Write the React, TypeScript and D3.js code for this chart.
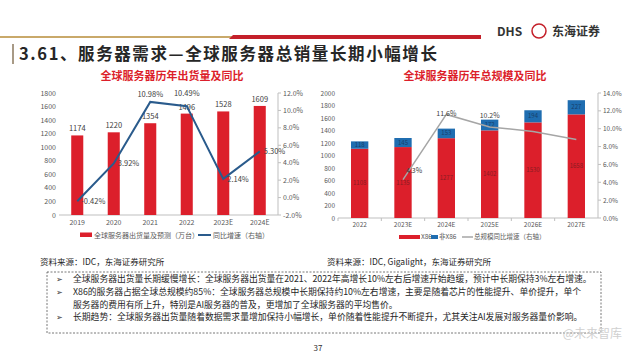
import React from 'react';
import * as d3 from 'd3';

const years1 = ['2019', '2020', '2021', '2022', '2023E', '2024E'];
const shipments = [1174, 1220, 1354, 1496, 1528, 1609];
const shipGrowth = [-0.42, 3.92, 10.98, 10.49, 2.14, 5.3];
const shipGrowthLabels = ['-0.42%', '3.92%', '10.98%', '10.49%', '2.14%', '5.30%'];
const leftTicks1 = [0, 200, 400, 600, 800, 1000, 1200, 1400, 1600, 1800];
const rightTicks1 = [-2, 0, 2, 4, 6, 8, 10, 12];

const years2 = ['2022', '2023E', '2024E', '2025E', '2026E', '2027E'];
const x86 = [1108, 1135, 1277, 1402, 1530, 1658];
const nonX86 = [118, 145, 153, 172, 194, 227];
const scaleGrowth = [NaN, 4.3, 11.6, 10.2, 9.7, 8.8];
const scaleGrowthLabels = ['', '4.3%', '11.6%', '10.2%', '', ''];
const leftTicks2 = [0, 200, 400, 600, 800, 1000, 1200, 1400, 1600, 1800, 2000];
const rightTicks2 = [0, 2, 4, 6, 8, 10, 12, 14];

const bullets = [
  '全球服务器出货量长期缓慢增长：全球服务器出货量在2021、2022年高增长10%左右后增速开始趋缓，预计中长期保持3%左右增速。',
  'X86的服务器占据全球总规模约85%：全球服务器总规模中长期保持约10%左右增速，主要是随着芯片的性能提升、单价提升，单个',
  '服务器的费用有所上升，特别是AI服务器的普及，更增加了全球服务器的平均售价。',
  '长期趋势：全球服务器出货量随着数据需求量增加保持小幅增长，单价随着性能提升不断提升，尤其关注AI发展对服务器量价影响。',
];
const bulletFlags = [true, true, false, true];

const FONT = '"Noto Sans CJK SC", "Noto Sans", sans-serif';
const RED = '#dc1f2b';
const BLUE = '#1f6db0';
const NAVY = '#2a5b8c';
const AXIS = '#bfbfbf';
const TICK = '#595959';

function LeftChart() {
  const x = d3.scaleBand<string>().domain(years1).range([59, 278]).paddingInner(0.67).paddingOuter(0.335);
  const yL = d3.scaleLinear().domain([0, 1800]).range([215, 93]);
  const yR = d3.scaleLinear().domain([-2, 12]).range([215, 93]);
  const cx = (d: string) => (x(d) as number) + x.bandwidth() / 2;
  const line = d3.line<number>().x((_, i) => cx(years1[i])).y((g) => yR(g));
  const labelPos = ['r', 'r', 't', 't', 'r', 'r'];
  return (
    <g fontFamily={FONT}>
      <text x={172} y={80} textAnchor="middle" fontSize={11} fontWeight="bold" fill={RED}>全球服务器历年出货量及同比</text>
      {leftTicks1.map((t) => (
        <text key={t} x={56} y={yL(t) + 2.5} textAnchor="end" fontSize={7} fill={TICK}>{t}</text>
      ))}
      {rightTicks1.map((t) => (
        <g key={t}>
          <line x1={278} x2={281} y1={yR(t)} y2={yR(t)} stroke={AXIS} />
          <text x={283} y={yR(t) + 2.5} fontSize={7} fill={TICK}>{t.toFixed(1) + '%'}</text>
        </g>
      ))}
      <line x1={59} x2={278} y1={215} y2={215} stroke={AXIS} />
      <line x1={278} x2={278} y1={93} y2={215} stroke={AXIS} />
      {years1.map((d, i) => (
        <g key={d}>
          <rect x={x(d)} y={yL(shipments[i])} width={x.bandwidth()} height={215 - yL(shipments[i])} fill={RED} />
          <text x={cx(d)} y={yL(shipments[i]) - 4} textAnchor="middle" fontSize={7.5} fill="#404040">{shipments[i]}</text>
          <text x={cx(d)} y={225} textAnchor="middle" fontSize={7} fill={TICK}>{d}</text>
        </g>
      ))}
      <path d={line(shipGrowth) || ''} fill="none" stroke={NAVY} strokeWidth={2} />
      {years1.map((d, i) => {
        const px = cx(d);
        const py = yR(shipGrowth[i]);
        return labelPos[i] === 'r' ? (
          <text key={d} x={px + 4} y={py + 3} fontSize={7.5} fill="#404040">{shipGrowthLabels[i]}</text>
        ) : (
          <text key={d} x={px} y={py - (i === 3 ? 10 : 5)} textAnchor="middle" fontSize={7.5} fill="#404040">{shipGrowthLabels[i]}</text>
        );
      })}
      <rect x={80} y={232.5} width={12} height={4.5} fill={RED} />
      <text x={94} y={237.5} fontSize={7} fill={TICK}>全球服务器出货量及预测（万台）</text>
      <line x1={198} x2={211} y1={235} y2={235} stroke={NAVY} strokeWidth={2} />
      <text x={213} y={237.5} fontSize={7} fill={TICK}>同比增速（右轴）</text>
      <text x={40} y={265} fontSize={8.5} fill="#262626">资料来源：IDC，东海证券研究所</text>
    </g>
  );
}

function RightChart() {
  const x = d3.scaleBand<string>().domain(years2).range([338, 598]).paddingInner(0.6).paddingOuter(0.3);
  const yL = d3.scaleLinear().domain([0, 2000]).range([218, 93]);
  const yR = d3.scaleLinear().domain([0, 14]).range([218, 93]);
  const cx = (d: string) => (x(d) as number) + x.bandwidth() / 2;
  const pts = years2.map((d, i) => [cx(d), scaleGrowth[i]] as [number, number]).filter((p) => !isNaN(p[1]));
  const line = d3.line<[number, number]>().x((p) => p[0]).y((p) => yR(p[1]));
  return (
    <g fontFamily={FONT}>
      <text x={475} y={80} textAnchor="middle" fontSize={11} fontWeight="bold" fill={RED}>全球服务器历年总规模及同比</text>
      {leftTicks2.map((t) => (
        <text key={t} x={335} y={yL(t) + 2.5} textAnchor="end" fontSize={6.5} fill={TICK}>{t}</text>
      ))}
      {rightTicks2.map((t) => (
        <g key={t}>
          <line x1={598} x2={601} y1={yR(t)} y2={yR(t)} stroke={AXIS} />
          <text x={603} y={yR(t) + 2.5} fontSize={6.5} fill={TICK}>{t.toFixed(1) + '%'}</text>
        </g>
      ))}
      <line x1={338} x2={598} y1={218} y2={218} stroke={AXIS} />
      <line x1={598} x2={598} y1={93} y2={218} stroke={AXIS} />
      {years2.map((d, i) => {
        const yTop = yL(x86[i] + nonX86[i]);
        const yMid = yL(x86[i]);
        return (
          <g key={d}>
            <line x1={(x(d) as number) - x.step() * 0.3} x2={(x(d) as number) - x.step() * 0.3} y1={218} y2={221} stroke={AXIS} />
            <rect x={x(d)} y={yMid} width={x.bandwidth()} height={218 - yMid} fill={RED} />
            <rect x={x(d)} y={yTop} width={x.bandwidth()} height={yMid - yTop} fill={BLUE} />
            <text x={cx(d)} y={(218 + yMid) / 2 + 2} textAnchor="middle" fontSize={6} fill="#8a1c22">{x86[i]}</text>
            <text x={cx(d)} y={(yMid + yTop) / 2 + 2} textAnchor="middle" fontSize={6} fill="#173f6b">{nonX86[i]}</text>
            <text x={cx(d)} y={227} textAnchor="middle" fontSize={6.5} fill={TICK}>{d}</text>
          </g>
        );
      })}
      <path d={line(pts) || ''} fill="none" stroke="#a6a6a6" strokeWidth={1.5} />
      {years2.map((d, i) => {
        if (!scaleGrowthLabels[i]) return null;
        const px = cx(d);
        const py = yR(scaleGrowth[i]);
        if (i === 1) return <text key={d} x={px + 3} y={py - 7} fontSize={7} fill="#404040">{scaleGrowthLabels[i]}</text>;
        if (i === 2) return <text key={d} x={px} y={py + 2} textAnchor="middle" fontSize={7} fill="#404040">{scaleGrowthLabels[i]}</text>;
        return <text key={d} x={px} y={py - 9} textAnchor="middle" fontSize={7} fill="#404040">{scaleGrowthLabels[i]}</text>;
      })}
      <rect x={399} y={235} width={21} height={4} fill={RED} />
      <text x={421} y={239} fontSize={6.5} fill={TICK}>X86</text>
      <rect x={431} y={235} width={7} height={4} fill={BLUE} />
      <text x={439} y={239} fontSize={6.5} fill={TICK}>非X86</text>
      <line x1={462} x2={473} y1={237} y2={237} stroke="#a6a6a6" strokeWidth={1.5} />
      <text x={474} y={239} fontSize={6.5} fill={TICK}>总规模同比增速（右轴）</text>
      <text x={327} y={265} fontSize={8.5} fill="#262626">资料来源：IDC, Gigalight，东海证券研究所</text>
    </g>
  );
}

export default function App() {
  return (
    <svg width={640} height={360} style={{ position: 'absolute', left: 0, top: 0, background: '#fff' }} fontFamily={FONT}>
      <rect x={0} y={0} width={640} height={360} fill="#fff" />
      <line x1={0} x2={235} y1={37} y2={37} stroke="#c9a96a" strokeWidth={2} />
      <path d="M233,35 L481,35 L481,39 L229,39 Z" fill="#c4202a" />
      <text x={497} y={36} fontSize={12} fontWeight="bold" fill="#333">DHS</text>
      <circle cx={539} cy={31} r={7} fill="none" stroke="#c4202a" strokeWidth={1.5} />
      <text x={552} y={36} fontSize={12} fontWeight="bold" fill="#333">东海证券</text>
      <rect x={12} y={44} width={2} height={20} fill="#a89a86" />
      <text x={19} y={60} fontSize={16.5} fontWeight="bold" fill="#262626" letterSpacing={1.6}>3.61、服务器需求—全球服务器总销量长期小幅增长</text>
      <LeftChart />
      <RightChart />
      <rect x={47} y={272} width={554} height={61} fill="none" stroke="#555" strokeDasharray="2,1.5" strokeWidth={0.8} />
      {bullets.map((b, i) => (
        <g key={i}>
          {bulletFlags[i] && <text x={56} y={282 + i * 12.8} fontSize={8} fill="#333">➢</text>}
          <text x={73} y={282 + i * 12.8} fontSize={8.8} fill="#262626">{b}</text>
        </g>
      ))}
      <text x={318} y={351} textAnchor="middle" fontSize={8} fill="#333">37</text>
      <text x={622} y={338} textAnchor="end" fontSize={12} fill="#d0d0d0">@未来智库</text>
    </svg>
  );
}
